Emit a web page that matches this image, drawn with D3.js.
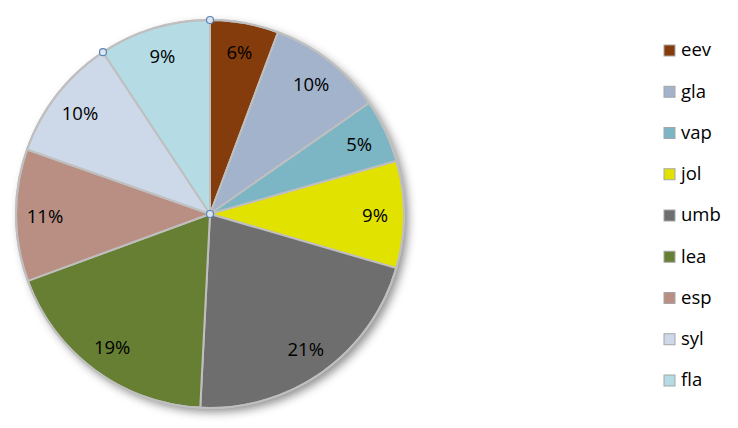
<!DOCTYPE html>
<html><head><meta charset="utf-8">
<script src="https://cdn.jsdelivr.net/npm/d3@7"></script>
<style>body{margin:0;background:#fff}svg{display:block}</style>
</head><body>
<svg id="chart" width="738" height="428"></svg>
<script>
const categories = ["eev","gla","vap","jol","umb","lea","esp","syl","fla"];
const values = [5.7,9.6,5.3,8.9,21.3,18.6,11.0,10.3,9.3];
const labels = ["6%","10%","5%","9%","21%","19%","11%","10%","9%"];
const colors = ["#843C0C","#A2B3CB","#7CB5C4","#E2E200","#6E6E6E","#667F33","#B98F83","#CDD8E9","#B5DCE5"];

const svg = d3.select("#chart");
const cx = 210, cy = 214, R = 194, labelR = 165;
const defs = svg.append("defs");
const f = defs.append("filter").attr("id","sh").attr("x","-20%").attr("y","-20%").attr("width","150%").attr("height","150%");
f.append("feDropShadow").attr("dx",4).attr("dy",4).attr("stdDeviation",5).attr("flood-color","#000").attr("flood-opacity",0.45);

const pie = d3.pie().sort(null).value(d => d)(values);
const arc = d3.arc().innerRadius(0).outerRadius(R);
const g = svg.append("g").attr("transform",`translate(${cx},${cy})`);
g.append("circle").attr("r",R).attr("fill","#fff").attr("filter","url(#sh)");
g.selectAll("path.slice").data(pie).enter().append("path")
  .attr("d",arc).attr("fill",(d,i)=>colors[i])
  .attr("stroke","#BFBFBF").attr("stroke-width",2).attr("stroke-linejoin","round");
g.append("circle").attr("r",R).attr("fill","none").attr("stroke","#BFBFBF").attr("stroke-width",2);

g.selectAll("text.lab").data(pie).enter().append("text")
  .attr("transform",d=>{const a=(d.startAngle+d.endAngle)/2;return `translate(${Math.sin(a)*labelR},${-Math.cos(a)*labelR+1})`;})
  .attr("text-anchor","middle").attr("dy","0.35em")
  .attr("font-family","Open Sans, Liberation Sans, sans-serif").attr("font-size",18.5).attr("fill","#000")
  .text((d,i)=>labels[i]);

// selection handles
const handles = [pie[0].startAngle, pie[8].startAngle];
handles.forEach(a=>{
  g.append("circle").attr("cx",Math.sin(a)*R).attr("cy",-Math.cos(a)*R).attr("r",3.5)
   .attr("fill","#DCE6F2").attr("stroke","#5B84B1").attr("stroke-width",1.2);
});
g.append("circle").attr("r",3.5).attr("fill","#DCE6F2").attr("stroke","#5B84B1").attr("stroke-width",1.2);

const ly = d3.scalePoint().domain(categories).range([50,380]);
const leg = svg.append("g");
const items = leg.selectAll("g").data(categories).enter().append("g")
  .attr("transform",d=>`translate(664,${ly(d)})`);
items.append("rect").attr("x",0).attr("y",-5).attr("width",11).attr("height",11)
  .attr("fill",(d,i)=>colors[i]).attr("stroke","#A6A6A6").attr("stroke-width",1);
items.append("text").attr("x",17).attr("y",0).attr("dy","0.35em")
  .attr("font-family","Open Sans, Liberation Sans, sans-serif").attr("font-size",18.5).attr("fill","#000")
  .text(d=>d);
</script>
</body></html>
